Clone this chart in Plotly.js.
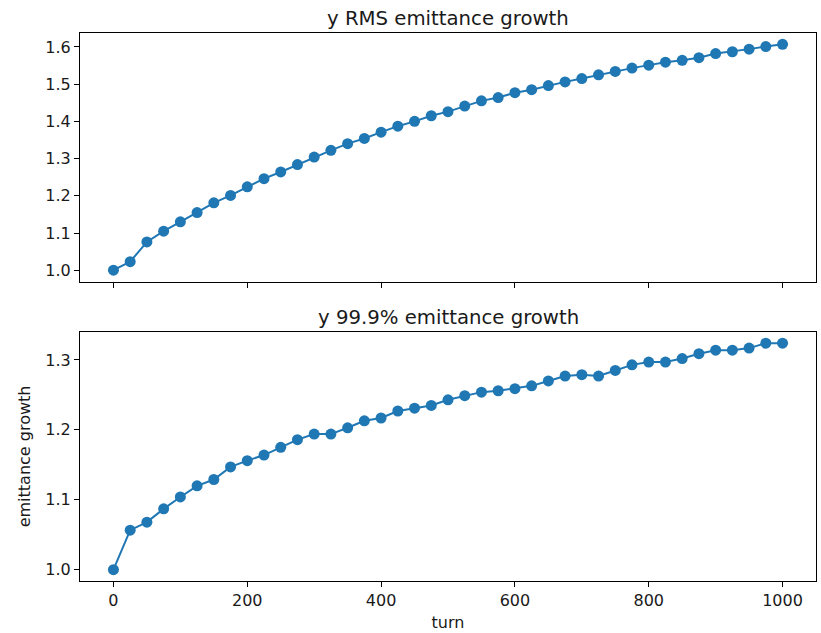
<!DOCTYPE html>
<html>
<head>
<meta charset="utf-8">
<script src="https://cdn.plot.ly/plotly-3.0.1.min.js"></script>
<style>
  html, body { margin: 0; padding: 0; background: #fff; }
  #chart { width: 821px; height: 633px; }
</style>
</head>
<body>
<div id="chart"></div>
<script>
// Turn numbers at which emittance was sampled
const turns = [0, 25, 50, 75, 100, 125, 150, 175, 200, 225, 250, 275, 300, 325, 350,
  375, 400, 425, 450, 475, 500, 525, 550, 575, 600, 625, 650, 675, 700, 725, 750,
  775, 800, 825, 850, 875, 900, 925, 950, 975, 1000];

// Vertical RMS emittance, relative to the initial value
const rmsGrowth = [1.000, 1.023, 1.076, 1.105, 1.130, 1.155, 1.181, 1.201, 1.224, 1.246,
  1.264, 1.284, 1.304, 1.322, 1.340, 1.354, 1.371, 1.387, 1.400, 1.415, 1.426,
  1.441, 1.455, 1.464, 1.477, 1.485, 1.496, 1.506, 1.515, 1.525, 1.534, 1.543,
  1.551, 1.559, 1.564, 1.571, 1.582, 1.587, 1.594, 1.601, 1.607];

// Vertical 99.9% emittance, relative to the initial value
const pct999Growth = [1.000, 1.0565, 1.068, 1.087, 1.104, 1.120, 1.129, 1.147, 1.156, 1.164,
  1.175, 1.186, 1.194, 1.194, 1.203, 1.213, 1.217, 1.227, 1.231, 1.235, 1.243,
  1.249, 1.254, 1.256, 1.259, 1.263, 1.270, 1.277, 1.279, 1.277, 1.285, 1.293,
  1.297, 1.297, 1.302, 1.309, 1.314, 1.314, 1.317, 1.324, 1.324];

// Axis ticks
const xTicks = [0, 200, 400, 600, 800, 1000];
const yTicksTop = [1.0, 1.1, 1.2, 1.3, 1.4, 1.5, 1.6];
const yTicksBottom = [1.0, 1.1, 1.2, 1.3];

const titles = ['y RMS emittance growth', 'y 99.9% emittance growth'];

const blue = '#1f77b4';
const font = 'DejaVu Sans, sans-serif';
const ink = '#1a1a1a';
const labelSize = 16;
const titleSize = 19.7;

function series(y, xa, ya) {
  return {
    x: turns, y: y, xaxis: xa, yaxis: ya,
    type: 'scatter', mode: 'lines+markers',
    line: { color: blue, width: 2 },
    marker: { color: blue, size: 11 },
    hoverinfo: 'x+y', showlegend: false
  };
}

// Pad a data range by 5% on each side
function padded(vals) {
  const lo = Math.min(...vals), hi = Math.max(...vals), m = (hi - lo) * 0.05;
  return [lo - m, hi + m];
}

const axisBase = {
  showline: true, mirror: true, linecolor: '#000', linewidth: 1,
  ticks: 'outside', ticklen: 5, tickwidth: 1, tickcolor: '#000',
  showgrid: false, zeroline: false,
  tickfont: { family: font, size: labelSize, color: ink }
};

const layout = {
  width: 821, height: 633,
  margin: { l: 80, r: 5, t: 33, b: 52 },
  paper_bgcolor: '#fff', plot_bgcolor: '#fff',
  font: { family: font, color: ink },
  xaxis: Object.assign({}, axisBase, {
    domain: [0, 1], anchor: 'y', range: padded(turns),
    tickvals: xTicks, showticklabels: false
  }),
  yaxis: Object.assign({}, axisBase, {
    domain: [0.5465, 1], anchor: 'x', range: padded(rmsGrowth),
    tickvals: yTicksTop, tickformat: '.1f'
  }),
  xaxis2: Object.assign({}, axisBase, {
    domain: [0, 1], anchor: 'y2', range: padded(turns),
    tickvals: xTicks,
    title: { text: 'turn', font: { family: font, size: labelSize, color: ink }, standoff: 7 }
  }),
  yaxis2: Object.assign({}, axisBase, {
    domain: [0, 0.4546], anchor: 'x2', range: padded(pct999Growth),
    tickvals: yTicksBottom, tickformat: '.1f',
    title: { text: 'emittance growth', font: { family: font, size: labelSize, color: ink }, standoff: 10 }
  }),
  annotations: [
    { text: titles[0], xref: 'x domain', yref: 'y domain', x: 0.5, y: 1,
      xanchor: 'center', yanchor: 'bottom', yshift: 1, showarrow: false,
      font: { family: font, size: titleSize, color: ink } },
    { text: titles[1], xref: 'x2 domain', yref: 'y2 domain', x: 0.5, y: 1,
      xanchor: 'center', yanchor: 'bottom', yshift: 1, showarrow: false,
      font: { family: font, size: titleSize, color: ink } }
  ]
};

Plotly.newPlot('chart', [
  series(rmsGrowth, 'x', 'y'),
  series(pct999Growth, 'x2', 'y2')
], layout, { displayModeBar: false, staticPlot: true });
</script>
</body>
</html>
